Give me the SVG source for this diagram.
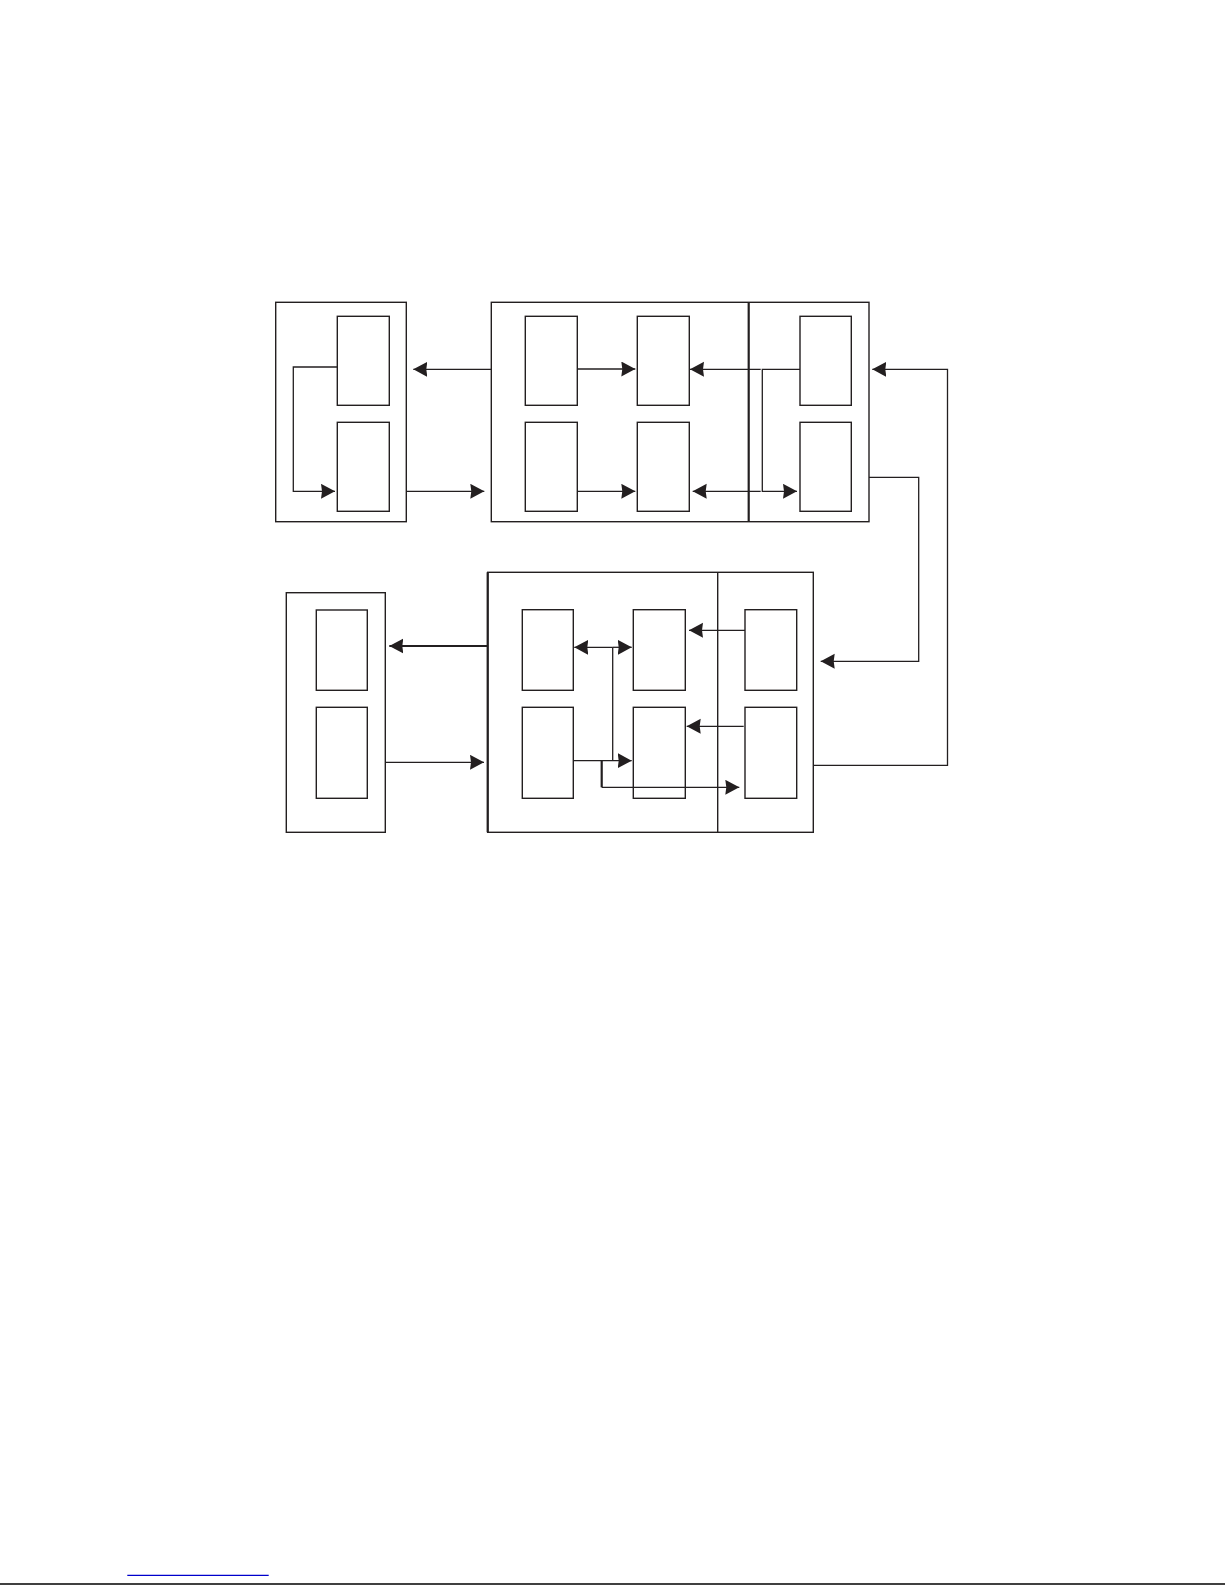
<svg xmlns="http://www.w3.org/2000/svg" width="1225" height="1585" viewBox="0 0 1225 1585">
<style>
.box{fill:none;stroke:#231f20;stroke-width:1.4}
.thick{fill:none;stroke:#231f20;stroke-width:2.2}
.ln{fill:none;stroke:#231f20;stroke-width:1.3}
.lnb{fill:none;stroke:#231f20;stroke-width:2.2}
</style>
<defs>
<marker id="ah" markerUnits="userSpaceOnUse" markerWidth="16" markerHeight="16" refX="14" refY="7.5" orient="auto-start-reverse" viewBox="0 0 16 16">
<path d="M0,0 L14,7.5 L0,15 L1,7.5 z" fill="#231f20"/>
</marker>
</defs>
<rect width="1225" height="1585" fill="#fff"/>
<g id="node-a">
<rect class="box" x="275.7" y="302.3" width="130.6" height="219.4"/>
<rect class="box" x="337.3" y="316.3" width="52" height="89"/>
<rect class="box" x="337.3" y="422.3" width="52" height="89"/>
</g>
<g id="node-b">
<rect class="box" x="491.3" y="302.3" width="377.7" height="219.4"/>
<line class="thick" x1="748.7" y1="302.3" x2="748.7" y2="521.7"/>
<rect class="box" x="525.3" y="316.3" width="52" height="89"/>
<rect class="box" x="637.3" y="316.3" width="52" height="89"/>
<rect class="box" x="525.3" y="422.3" width="52" height="89"/>
<rect class="box" x="637.3" y="422.3" width="52" height="89"/>
<rect class="box" x="800" y="316.3" width="51.3" height="89"/>
<rect class="box" x="800" y="422.3" width="51.3" height="89"/>
</g>
<g id="node-c">
<rect class="box" x="286.3" y="592.7" width="99" height="239.6"/>
<rect class="box" x="316.3" y="610" width="51" height="80.3"/>
<rect class="box" x="316.3" y="707.3" width="51" height="91"/>
</g>
<g id="node-d">
<rect class="box" x="487.7" y="572.3" width="325.6" height="260"/>
<line class="thick" x1="487.7" y1="572.3" x2="487.7" y2="832.3"/>
<line class="box" x1="717.7" y1="572.3" x2="717.7" y2="832.3"/>
<rect class="box" x="522.3" y="609.7" width="51" height="80.6"/>
<rect class="box" x="633.3" y="609.7" width="52" height="80.6"/>
<rect class="box" x="745" y="609.7" width="51.7" height="80.6"/>
<rect class="box" x="522.3" y="707.3" width="51" height="91"/>
<rect class="box" x="633.3" y="707.3" width="52" height="91"/>
<rect class="box" x="745" y="707.3" width="51.7" height="91"/>
</g>
<g id="connectors">
<path class="ln" d="M337.3,367 H293.3 V491.3 H335" marker-end="url(#ah)"/>
<path class="ln" d="M491.3,369.3 H413.3" marker-end="url(#ah)"/>
<path class="ln" d="M406.3,491.3 H484.3" marker-end="url(#ah)"/>
<path class="ln" d="M577.3,369 H635.3" marker-end="url(#ah)"/>
<path class="ln" d="M577.3,491.3 H635.3" marker-end="url(#ah)"/>
<path class="ln" d="M760.7,369.3 H690" marker-end="url(#ah)"/>
<path class="ln" d="M760.7,491.3 H692.7" marker-end="url(#ah)"/>
<path class="ln" d="M800,369.3 H762.3 V491.3 H797" marker-end="url(#ah)"/>
<path class="ln" d="M813.3,765.3 H947.5 V369.3 H872.3" marker-end="url(#ah)"/>
<path class="ln" d="M869,477.3 H918.7 V661.3 H820.7" marker-end="url(#ah)"/>
<path class="lnb" d="M487.7,646 H389.3" marker-end="url(#ah)"/>
<path class="ln" d="M385.3,762.3 H484" marker-end="url(#ah)"/>
<path class="ln" d="M612.7,647.3 H574.3" marker-end="url(#ah)"/>
<path class="ln" d="M612.7,647.3 H631.7" marker-end="url(#ah)"/>
<path class="ln" d="M612.7,647.3 V760.7"/>
<path class="ln" d="M573.3,760.7 H631.7" marker-end="url(#ah)"/>
<path class="lnb" d="M601.7,760.7 V787.3"/>
<path class="ln" d="M601.7,787.3 H739.3" marker-end="url(#ah)"/>
<path class="ln" d="M745,630.3 H689" marker-end="url(#ah)"/>
<path class="ln" d="M743.7,726.3 H686.7" marker-end="url(#ah)"/>
</g>
<line x1="127.3" y1="1575.3" x2="268.7" y2="1575.3" stroke="#0000cc" stroke-width="1.3"/>
<line x1="0" y1="1584" x2="1225" y2="1584" stroke="#000" stroke-width="1.5"/>
</svg>
